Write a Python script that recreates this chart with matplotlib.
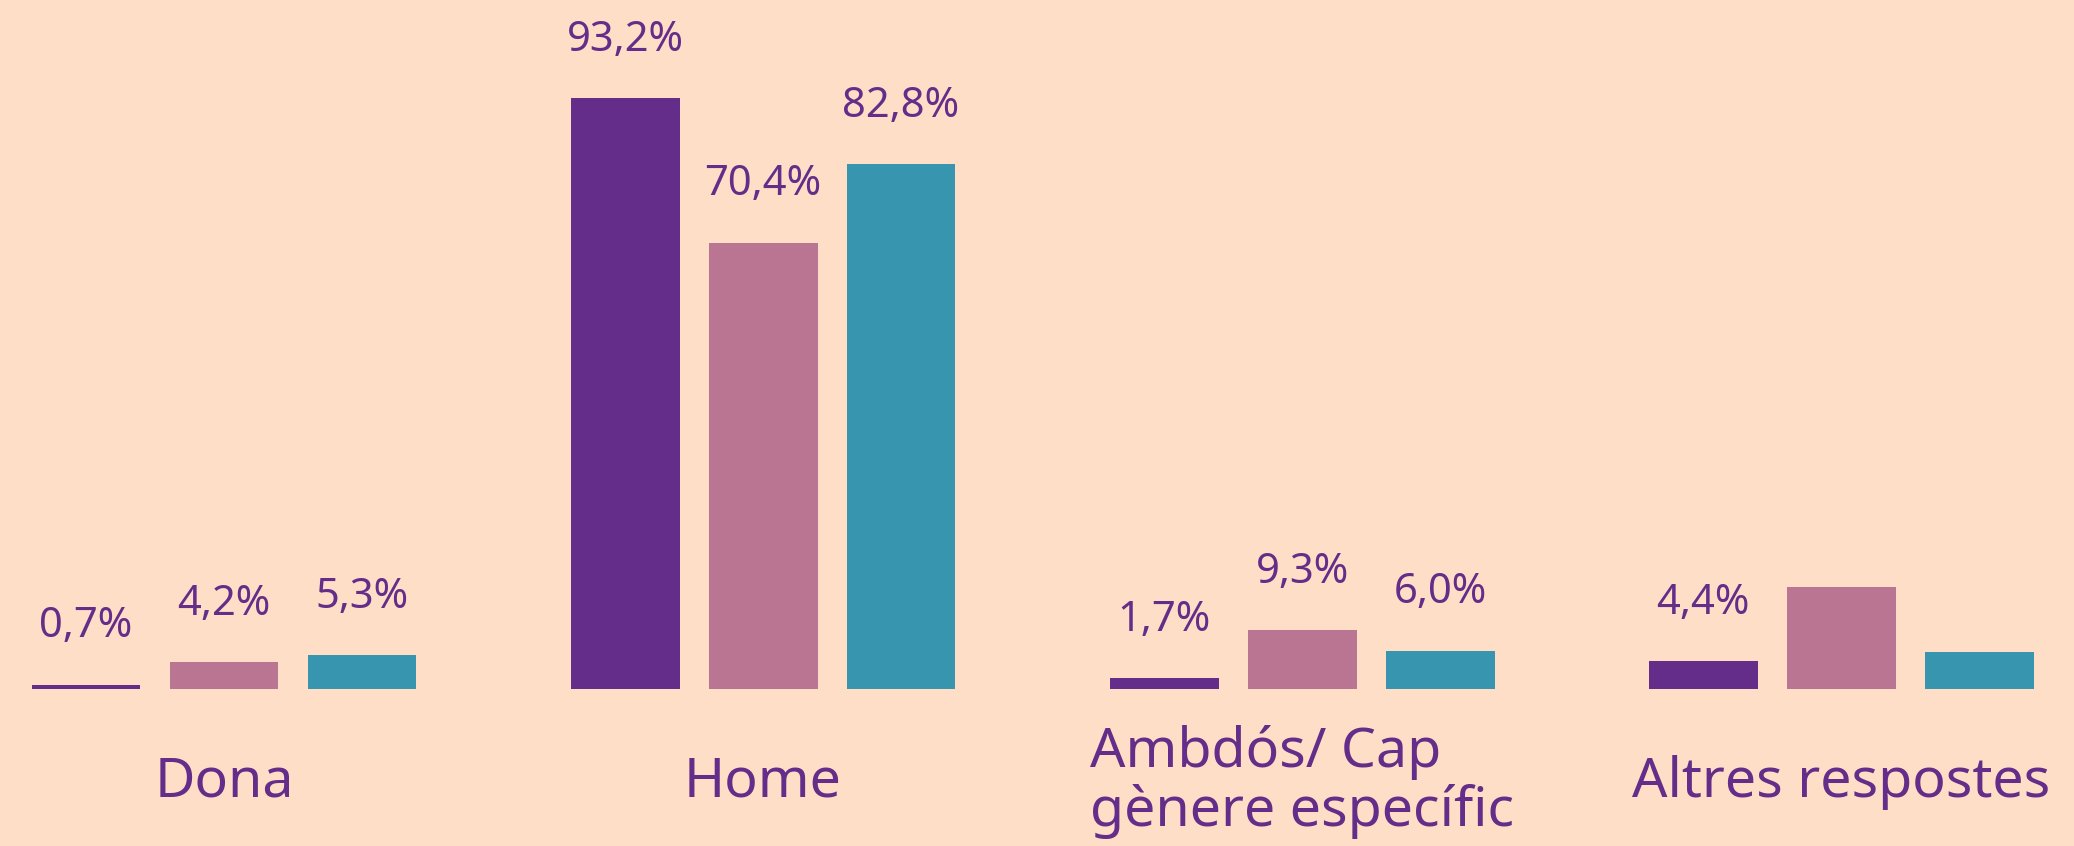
import numpy as np
from matplotlib import pyplot as plt

# categories and the three series (percentages)
categories = ["Dona", "Home", "Ambdós/ Cap\ngènere específic", "Altres respostes"]
purple_vals = [0.7, 93.2, 1.7, 4.4]
pink_vals = [4.2, 70.4, 9.3, 16.1]
teal_vals = [5.3, 82.8, 6.0, 5.9]
# which value labels are visible in the picture
purple_show = [True, True, True, True]
pink_show = [True, True, True, False]
teal_show = [True, True, True, False]

bg = "#FEDEC6"
purple = "#632D89"
pink = "#B97592"
teal = "#3895B0"
txt = "#632D89"

plt.rcParams['font.family'] = ['Noto Sans', 'DejaVu Sans']


def fmt(v, show):
    return (f"{v:.1f}".replace(".", ",") + "%") if show else ""


fig = plt.figure(figsize=(20.74, 8.46), dpi=100, facecolor=bg)
ax = fig.add_axes([0, 0, 1, 1])
ax.set_facecolor(bg)

x = np.arange(len(categories))
w = 0.202
step = 0.256

for off, vals, col, show in [(-step, purple_vals, purple, purple_show),
                             (0, pink_vals, pink, pink_show),
                             (step, teal_vals, teal, teal_show)]:
    bars = ax.bar(x + off, vals, width=w, color=col)
    ax.bar_label(bars, labels=[fmt(v, s) for v, s in zip(vals, show)],
                 padding=27, color=txt, fontsize=30)

for xi, cat in zip(x, categories):
    ax.text(xi, -14.7, cat, ha="center", va="center", multialignment="left",
            color=txt, fontsize=40, linespacing=1.1)

ax.set_xlim(-0.4156, 3.432)
ax.set_ylim(-24.76, 108.68)
ax.axis("off")

plt.savefig("out.png", dpi=100, facecolor=bg)
